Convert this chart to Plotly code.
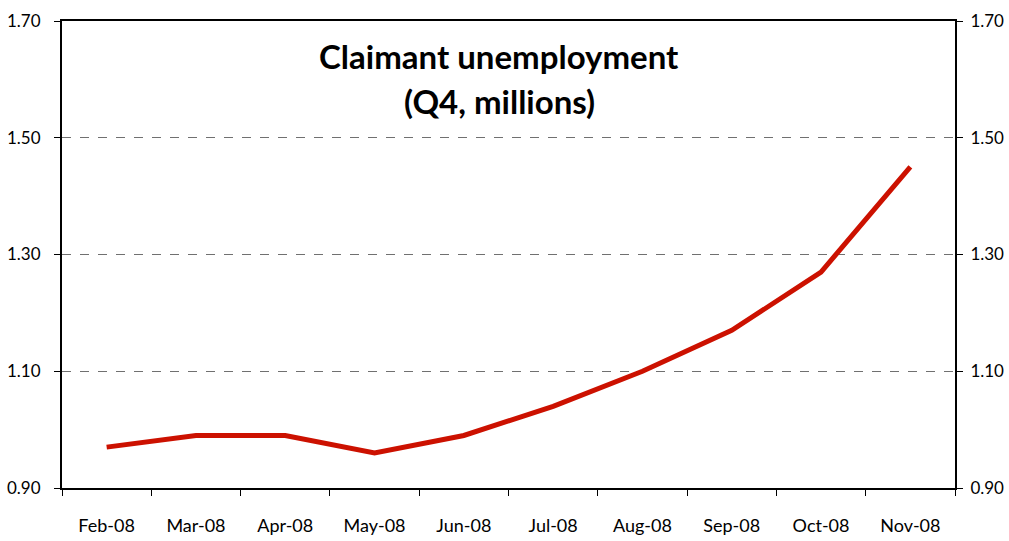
import plotly.graph_objects as go

months = ["Feb-08", "Mar-08", "Apr-08", "May-08", "Jun-08", "Jul-08", "Aug-08", "Sep-08", "Oct-08", "Nov-08"]
claimants = [0.97, 0.99, 0.99, 0.96, 0.99, 1.04, 1.10, 1.17, 1.27, 1.45]
y_ticks = [0.90, 1.10, 1.30, 1.50, 1.70]
y_labels = ["0.90", "1.10", "1.30", "1.50", "1.70"]

FONT = "Lato"
TICK_SIZE = 18
Y_TICK_SIZE = 17

fig = go.Figure()
fig.add_trace(go.Scatter(x=months, y=claimants, mode="lines",
                         line=dict(color="#cc1100", width=5), showlegend=False,
                         hoverinfo="x+y"))
# invisible trace on right axis
fig.add_trace(go.Scatter(x=months, y=claimants, mode="lines", yaxis="y2",
                         line=dict(width=0), opacity=0, showlegend=False, hoverinfo="skip"))

fig.update_layout(
    width=1009, height=541,
    margin=dict(l=62, r=54, t=21, b=53, autoexpand=False),
    paper_bgcolor="white", plot_bgcolor="white",
    font=dict(family=FONT, color="black", size=TICK_SIZE),
    xaxis=dict(type="category", range=[-0.5, 9.5], tickson="boundaries",
               ticks="outside", ticklen=6, tickcolor="black", tickwidth=1,
               showline=True, linecolor="black", linewidth=2, mirror=True,
               showgrid=False, tickfont=dict(size=TICK_SIZE), automargin=False,
               ticklabelstandoff=20),
    yaxis=dict(range=[0.90, 1.70], tickvals=y_ticks, ticktext=y_labels,
               ticks="outside", ticklen=6, tickcolor="black",
               showline=True, linecolor="black", linewidth=2,
               showgrid=True, gridcolor="#707070", griddash="dash", gridwidth=1,
               zeroline=False, tickfont=dict(size=Y_TICK_SIZE), automargin=False,
               ticklabelstandoff=10),
    yaxis2=dict(range=[0.90, 1.70], tickvals=y_ticks, ticktext=y_labels,
                overlaying="y", side="right",
                ticks="outside", ticklen=6, tickcolor="black",
                showline=True, linecolor="black", linewidth=2,
                showgrid=False, zeroline=False, tickfont=dict(size=Y_TICK_SIZE),
                automargin=False, ticklabelstandoff=4),
    annotations=[
        dict(text="<b>Claimant unemployment</b>", x=0.4894, xref="paper",
             yref="y", y=1.70 - (56 - 21) / 583.3,
             showarrow=False, font=dict(size=33)),
        dict(text="<b>(Q4, millions)</b>", x=0.4894, xref="paper",
             yref="y", y=1.70 - (101 - 21) / 583.3,
             showarrow=False, font=dict(size=33)),
    ],
)

fig.write_html("out.html",
               config={"displayModeBar": False},
               post_script="document.body.style.margin='0';document.body.style.overflow='hidden';")
